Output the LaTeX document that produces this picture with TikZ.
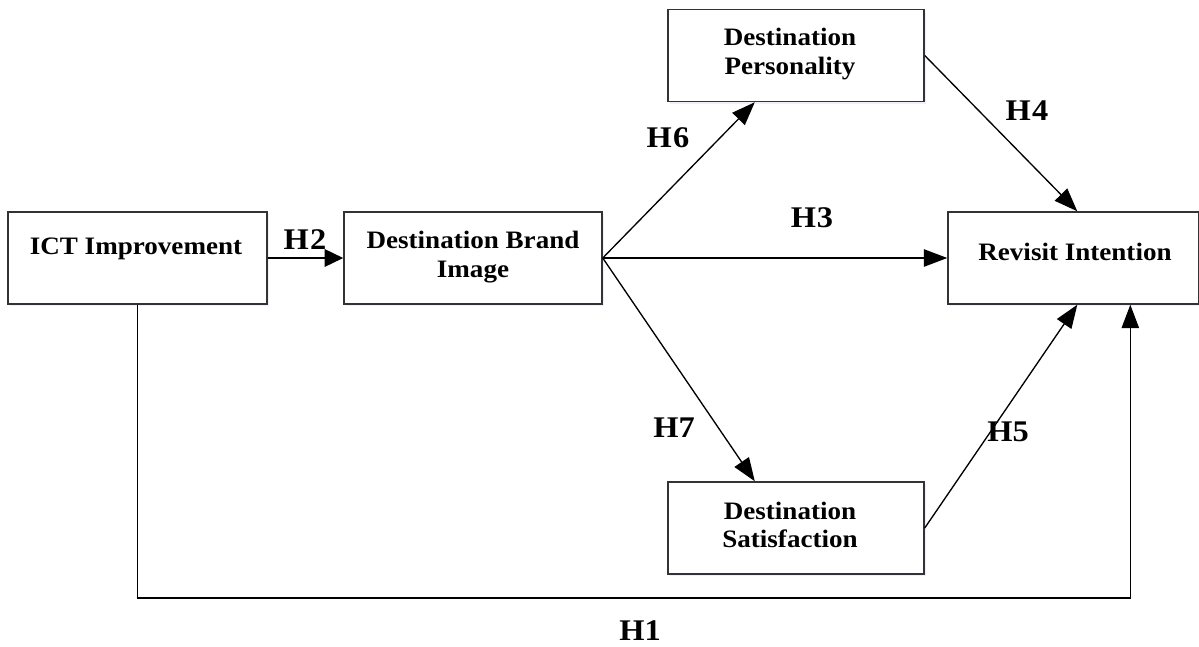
\documentclass[tikz,border=0pt]{standalone}
\usepackage{fontspec}
\setmainfont{Liberation Serif}[FakeStretch=1.08]
\usetikzlibrary{arrows.meta,calc,shadows}
\begin{document}
\begin{tikzpicture}[x=0.75pt,y=-0.75pt,
  box/.style={draw=black!80, line width=1.1pt, fill=white, rectangle, inner sep=0pt,
    minimum width=#1*0.75pt, minimum height=92*0.75pt,
    drop shadow={opacity=0.18, fill=blue!35, shadow xshift=1.5pt, shadow yshift=-1.5pt}},
  txt/.style={font=\bfseries\fontsize{18.8}{21.5}\selectfont, align=center, inner sep=0pt},
  hlab/.style={font=\bfseries\fontsize{22.5}{24}\selectfont, inner sep=0pt},
  conn/.style={line width=1pt, draw=black, -{Triangle[length=17.5pt,width=13pt]}},
  thick conn/.style={line width=1.9pt, draw=black, -{Triangle[length=14pt,width=13pt]}}
]
\useasboundingbox (0,0) rectangle (1199,646);

% boxes
\node[box=259] (ict) at (137.5,258) {};
\node[box=258] (dbi) at (473,258) {};
\node[box=256] (dp)  at (796,55.5) {};
\node[box=251] (ri)  at (1073.5,258) {};
\node[box=256] (ds)  at (796,528) {};

% texts
\node[txt] (tict) at (136,249) {ICT Improvement};
\node[txt] (tdbi) at (473,257) {Destination Brand\\Image};
\node[txt] (tdp)  at (790,54) {Destination\\Personality};
\node[txt] (tri)  at (1075,252) {Revisit Intention};
\node[txt] (tds)  at (790,525) {Destination\\Satisfaction};

% connectors
\draw[thick conn] (ict.east) -- (dbi.west);
\draw[conn] (dbi.east) -- ($(dp.south west)!0.34!(dp.south east)$);
\draw[conn] (dbi.east) -- (ri.west);
\draw[conn] (dbi.east) -- ($(ds.north west)!0.34!(ds.north east)$);
\draw[conn] (dp.east) -- ($(ri.north west)!0.515!(ri.north east)$);
\draw[conn] (ds.east) -- ($(ri.south west)!0.515!(ri.south east)$);
\coordinate (h1c) at (640,598);
\draw[conn] (ict.south) |- (h1c) -| ($(ri.south west)!0.725!(ri.south east)$);

% hypothesis labels
\node[hlab] (h2) at (305,240) {H\kern1pt2};
\node[hlab] (h6) at (668,138) {H\kern1pt6};
\node[hlab] (h3) at (812,218) {H\kern0.5pt3};
\node[hlab] (h4) at (1027,111) {H\kern1pt4};
\node[hlab] (h7) at (674,428) {H7};
\node[hlab] (h5) at (1008,432) {H5};
\node[hlab] (h1) at (640,631) {H1};
\end{tikzpicture}
\end{document}
